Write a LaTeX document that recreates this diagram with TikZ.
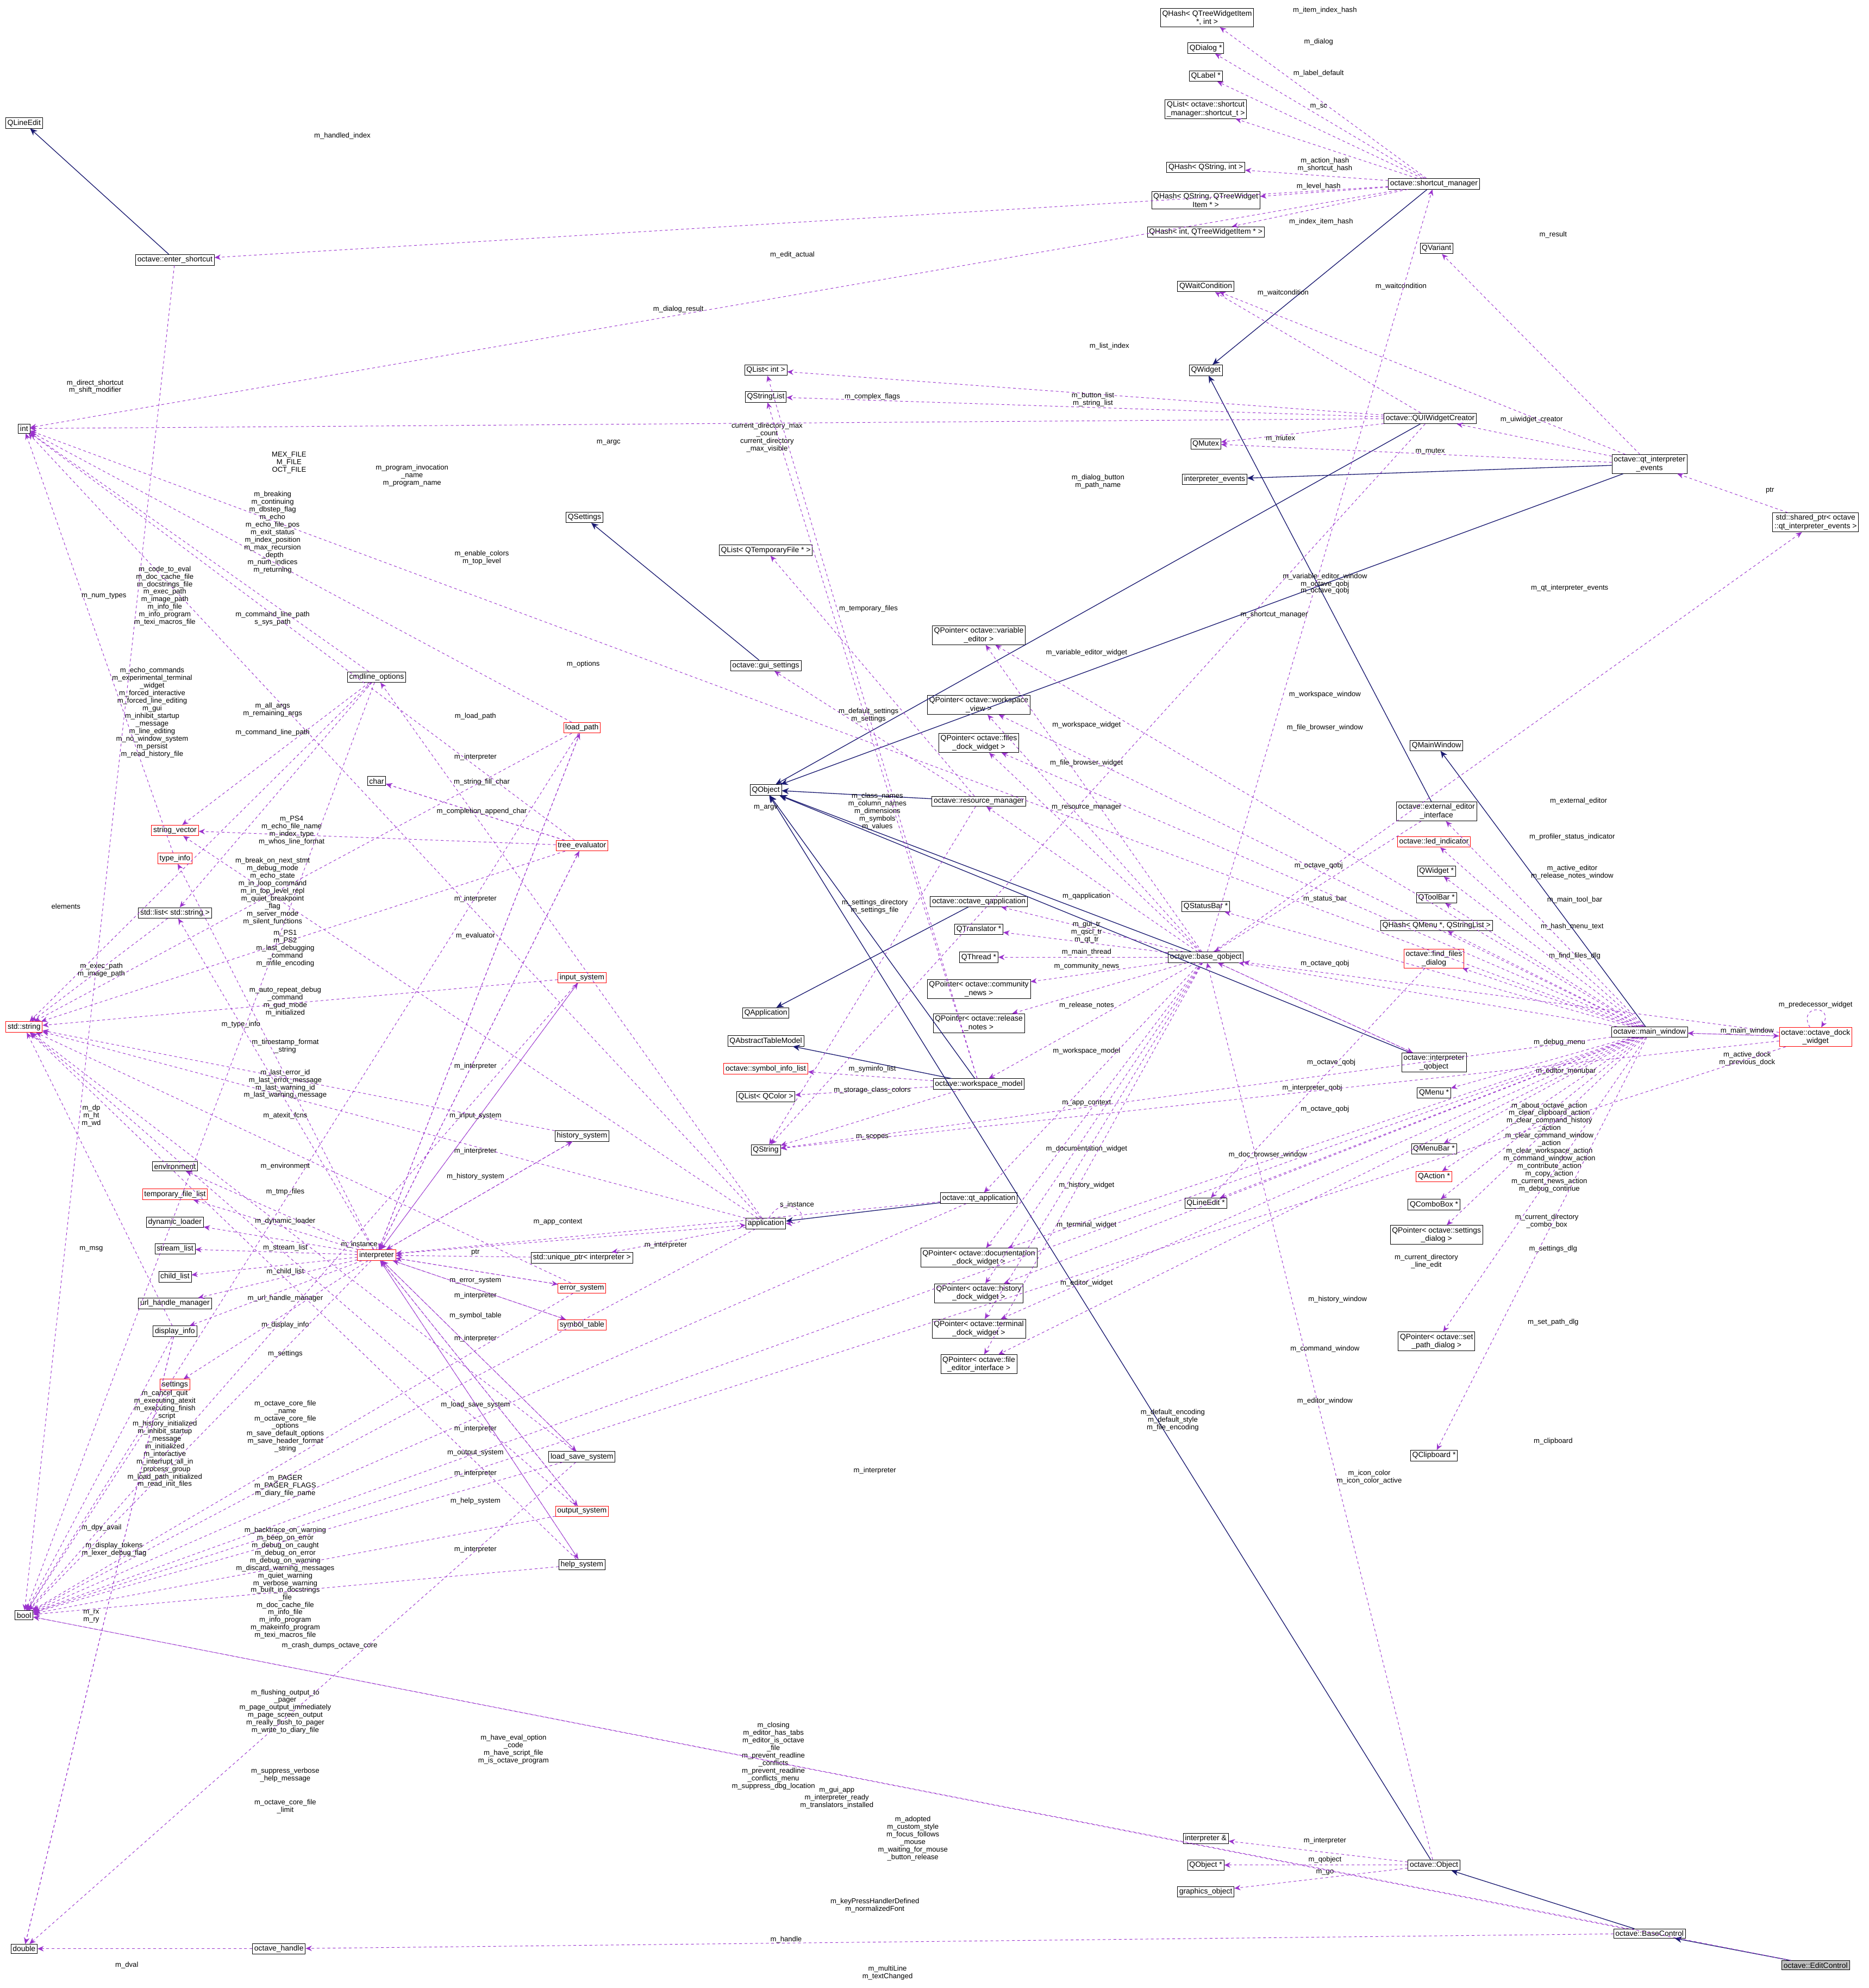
\documentclass[tikz,border=0pt]{standalone}
\usepackage{fontspec}
\setmainfont{Liberation Sans}
\usetikzlibrary{arrows.meta}
\definecolor{mem}{HTML}{9A32CD}
\definecolor{inh}{HTML}{191970}
\begin{document}
\begin{tikzpicture}[x=0.05cm,y=-0.05cm,
 n/.style={draw=black,fill=white,font=\fontsize{8.5}{9.5}\selectfont,inner sep=2pt,align=center,line width=0.5pt},
 r/.style={n,draw=red},
 g/.style={n,fill=gray!50},
 lab/.style={font=\fontsize{8}{8.5}\selectfont,align=center,inner sep=0pt,text=black},
 m/.style={dashed,draw=mem,line width=0.6pt,-{Stealth[length=7pt,width=6pt]},color=mem},
 i/.style={draw=inh,line width=0.8pt,-{Stealth[length=8pt,width=7pt]},color=inh}]
\useasboundingbox (0,0) rectangle (1474,1568);
% right-top
\node[n] (qh1) at (952,14) {QHash< QTreeWidgetItem\\*, int >};
\node[n] (qdlg) at (951,38) {QDialog *};
\node[n] (qlab) at (951,60) {QLabel *};
\node[n] (qlsc) at (951,86) {QList< octave::shortcut\\\_manager::shortcut\_t >};
\node[n] (qh2) at (951,132) {QHash< QString, int >};
\node[n] (qh3) at (951,158) {QHash< QString, QTreeWidget\\Item * >};
\node[n] (qh4) at (951,183) {QHash< int, QTreeWidgetItem * >};
\node[n] (scm) at (1131,145) {octave::shortcut\_manager};
\node[n] (qvar) at (1133,196) {QVariant};
\node[n] (qwc) at (951,226) {QWaitCondition};
\node[n] (qwid) at (951,292) {QWidget};
\node[n] (qmtx) at (951,350) {QMutex};
\node[n] (iev) at (958,378) {interpreter\_events};
\node[n] (quic) at (1128,330) {octave::QUIWidgetCreator};
\node[n] (qie) at (1301,366) {octave::qt\_interpreter\\\_events};
\node[n] (shp) at (1432,412) {std::shared\_ptr< octave\\::qt\_interpreter\_events >};
\node[n] (qmw) at (1133,588) {QMainWindow};
\node[n] (eei) at (1133,640) {octave::external\_editor\\\_interface};
\node[r] (led) at (1131,664) {octave::led\_indicator};
\node[n] (qwp) at (1133,687) {QWidget *};
\node[n] (qtb) at (1133,708) {QToolBar *};
\node[n] (qhm) at (1133,730) {QHash< QMenu *, QStringList >};
\node[r] (ffd) at (1131,756) {octave::find\_files\\\_dialog};
\node[n] (mw) at (1301,814) {octave::main\_window};
\node[r] (odw) at (1432,818) {octave::octave\_dock\\\_widget};
\node[n] (iqo) at (1131,838) {octave::interpreter\\\_qobject};
\node[n] (qmenu) at (1131,862) {QMenu *};
\node[n] (qmb) at (1131,906) {QMenuBar *};
\node[r] (qact) at (1131,928) {QAction *};
\node[n] (qcb) at (1131,950) {QComboBox *};
\node[n] (psd) at (1133,974) {QPointer< octave::settings\\\_dialog >};
\node[n] (pspd) at (1133,1058) {QPointer< octave::set\\\_path\_dialog >};
\node[n] (qclip) at (1131,1148) {QClipboard *};
\node[n] (iref) at (951,1450) {interpreter \&};
\node[n] (qop) at (951,1471) {QObject *};
\node[n] (gobj) at (951,1492) {graphics\_object};
\node[n] (obj) at (1131,1471) {octave::Object};
\node[n] (bc) at (1301,1525) {octave::BaseControl};
\node[g] (ec) at (1432,1550) {octave::EditControl};
% middle
\node[n] (qli) at (604,292) {QList< int >};
\node[n] (qsl) at (604,313) {QStringList};
\node[n] (qset) at (461,408) {QSettings};
\node[n] (qltf) at (604,434) {QList< QTemporaryFile * >};
\node[n] (gs) at (604,525) {octave::gui\_settings};
\node[n] (qobj) at (604,623) {QObject};
\node[n] (rm) at (772,632) {octave::resource\_manager};
\node[n] (pve) at (772,501) {QPointer< octave::variable\\\_editor >};
\node[n] (pwv) at (772,556) {QPointer< octave::workspace\\\_view >};
\node[n] (pfd) at (772,586) {QPointer< octave::files\\\_dock\_widget >};
\node[n] (oqa) at (772,711) {octave::octave\_qapplication};
\node[n] (qtr) at (772,733) {QTranslator *};
\node[n] (qth) at (772,755) {QThread *};
\node[n] (pcn) at (772,780) {QPointer< octave::community\\\_news >};
\node[n] (prn) at (772,807) {QPointer< octave::release\\\_notes >};
\node[n] (bq) at (951,755) {octave::base\_qobject};
\node[n] (qsb) at (951,715) {QStatusBar *};
\node[n] (qapp) at (604,799) {QApplication};
\node[n] (qatm) at (604,821) {QAbstractTableModel};
\node[r] (sil) at (604,843) {octave::symbol\_info\_list};
\node[n] (qlc) at (604,865) {QList< QColor >};
\node[n] (wm) at (772,855) {octave::workspace\_model};
\node[n] (qstr) at (604,907) {QString};
\node[n] (qta) at (772,945) {octave::qt\_application};
\node[n] (app) at (604,965) {application};
\node[n] (pdd) at (772,992) {QPointer< octave::documentation\\\_dock\_widget >};
\node[n] (phd) at (772,1020) {QPointer< octave::history\\\_dock\_widget >};
\node[n] (ptd) at (772,1048) {QPointer< octave::terminal\\\_dock\_widget >};
\node[n] (pfe) at (772,1076) {QPointer< octave::file\\\_editor\_interface >};
\node[n] (qlep) at (951,949) {QLineEdit *};
% left
\node[n] (qle) at (19,97) {QLineEdit};
\node[n] (es) at (138,205) {octave::enter\_shortcut};
\node[n] (int) at (19,338) {int};
\node[r] (str) at (19,810) {std::string};
\node[n] (bool) at (19,1274) {bool};
\node[n] (dbl) at (19,1537) {double};
\node[n] (clo) at (297,534) {cmdline\_options};
\node[r] (lp) at (459,574) {load\_path};
\node[n] (chr) at (297,616) {char};
\node[r] (te) at (459,667) {tree\_evaluator};
\node[r] (sv) at (138,655) {string\_vector};
\node[r] (ti) at (138,677) {type\_info};
\node[n] (sls) at (138,720) {std::list< std::string >};
\node[r] (ins) at (459,771) {input\_system};
\node[n] (hs) at (459,896) {history\_system};
\node[n] (env) at (138,920) {environment};
\node[r] (tfl) at (138,942) {temporary\_file\_list};
\node[n] (dl) at (138,964) {dynamic\_loader};
\node[n] (sl) at (138,985) {stream\_list};
\node[n] (cl) at (138,1007) {child\_list};
\node[n] (uhm) at (138,1028) {url\_handle\_manager};
\node[n] (di) at (138,1050) {display\_info};
\node[r] (set) at (138,1092) {settings};
\node[r] (itp) at (297,990) {interpreter};
\node[n] (up) at (459,992) {std::unique\_ptr< interpreter >};
\node[r] (es2) at (459,1016) {error\_system};
\node[r] (st) at (459,1045) {symbol\_table};
\node[n] (lss) at (459,1149) {load\_save\_system};
\node[r] (os) at (459,1192) {output\_system};
\node[n] (hsy) at (459,1234) {help\_system};
\node[n] (oh) at (220,1537) {octave\_handle};

% inheritance
\draw[i] (es) -- (qle);
\draw[i] (scm) -- (qwid);
\draw[i] (quic) -- (qobj);
\draw[i] (qie) -- (iev);
\draw[i] (qie) -- (qobj);
\draw[i] (mw) -- (qmw);
\draw[i] (eei) -- (qwid);
\draw[i] (gs) -- (qset);
\draw[i] (rm) -- (qobj);
\draw[i] (bq) -- (qobj);
\draw[i] (oqa) -- (qapp);
\draw[i] (wm) -- (qatm);
\draw[i] (wm) -- (qobj);
\draw[i] (qta) -- (app);
\draw[i] (iqo) -- (qobj);
\draw[i] (obj) -- (qobj);
\draw[i] (bc) -- (obj);
\draw[i] (ec) -- (bc);

% members
\draw[m] (scm) -- (qh1); \node[lab] at (1045,8) {m\_item\_index\_hash};
\draw[m] (scm) -- (qdlg); \node[lab] at (1040,33) {m\_dialog};
\draw[m] (scm) -- (qlab); \node[lab] at (1040,58) {m\_label\_default};
\draw[m] (scm) -- (qlsc); \node[lab] at (1040,84) {m\_sc};
\draw[m] (scm) -- (qh2); \node[lab] at (1045,130) {m\_action\_hash\\m\_shortcut\_hash};
\draw[m] (scm) -- (qh3); \node[lab] at (1040,147) {m\_level\_hash};
\draw[m] (scm) -- (qh4); \node[lab] at (1042,175) {m\_index\_item\_hash};
\draw[m] (scm) -- (int); \node[lab] at (270,107) {m\_handled\_index};
\draw[m] (scm) -- (es); \node[lab] at (625,201) {m\_edit\_actual};
\draw[m] (es) -- (bool); \node[lab] at (75,305) {m\_direct\_shortcut\\m\_shift\_modifier};
\draw[m] (qie) -- (qvar); \node[lab] at (1225,185) {m\_result};
\draw[m] (qie) -- (qwc); \node[lab] at (1105,226) {m\_waitcondition};
\draw[m] (qie) -- (quic); \node[lab] at (1208,331) {m\_uiwidget\_creator};
\draw[m] (qie) -- (qmtx); \node[lab] at (1128,356) {m\_mutex};
\draw[m] (quic) -- (qwc); \node[lab] at (1012,231) {m\_waitcondition};
\draw[m] (quic) -- (qmtx); \node[lab] at (1010,346) {m\_mutex};
\draw[m] (quic) -- (qli); \node[lab] at (875,273) {m\_list\_index};
\draw[m] (quic) -- (qsl); \node[lab] at (862,315) {m\_button\_list\\m\_string\_list};
\draw[m] (quic) -- (int); \node[lab] at (535,244) {m\_dialog\_result};
\draw[m] (quic) -- (qstr); \node[lab] at (866,380) {m\_dialog\_button\\m\_path\_name};
\draw[m] (shp) -- (qie); \node[lab] at (1396,387) {ptr};
\draw[m] (bq) -- (shp); \node[lab] at (1238,464) {m\_qt\_interpreter\_events};
\draw[m] (bq) -- (scm); \node[lab] at (1005,485) {m\_shortcut\_manager};
\draw[m] (bq) -- (pve); \node[lab] at (857,515) {m\_variable\_editor\_widget};
\draw[m] (bq) -- (pwv); \node[lab] at (857,572) {m\_workspace\_widget};
\draw[m] (bq) -- (pfd); \node[lab] at (857,602) {m\_file\_browser\_widget};
\draw[m] (bq) -- (rm); \node[lab] at (857,637) {m\_resource\_manager};
\draw[m] (bq) -- (oqa); \node[lab] at (857,707) {m\_qapplication};
\draw[m] (bq) -- (qtr); \node[lab] at (857,735) {m\_gui\_tr\\m\_qsci\_tr\\m\_qt\_tr};
\draw[m] (bq) -- (qth); \node[lab] at (857,751) {m\_main\_thread};
\draw[m] (bq) -- (pcn); \node[lab] at (857,762) {m\_community\_news};
\draw[m] (bq) -- (prn); \node[lab] at (857,793) {m\_release\_notes};
\draw[m] (bq) -- (wm); \node[lab] at (857,829) {m\_workspace\_model};
\draw[m] (bq) -- (qta); \node[lab] at (857,870) {m\_app\_context};
\draw[m] (bq) -- (pdd); \node[lab] at (857,906) {m\_documentation\_widget};
\draw[m] (bq) -- (phd); \node[lab] at (857,935) {m\_history\_widget};
\draw[m] (bq) -- (ptd); \node[lab] at (857,966) {m\_terminal\_widget};
\draw[m] (bq) -- (pfe); \node[lab] at (857,1012) {m\_editor\_widget};
\draw[m] (bq) -- (iqo); \node[lab] at (1035,858) {m\_interpreter\_qobj};
\draw[m] (mw) -- (bq); \node[lab] at (1045,760) {m\_octave\_qobj};
\draw[m] (eei) -- (bq); \node[lab] at (1040,683) {m\_octave\_qobj};
\draw[m] (iqo) -- (bq); \node[lab] at (1045,875) {m\_octave\_qobj};
\draw[m] (obj) -- (bq); \node[lab] at (1050,838) {m\_octave\_qobj};
\draw[m] (odw) -- (bq); \node[lab] at (1045,466) {m\_octave\_qobj};
\draw[m] (mw) -- (qsb); \node[lab] at (1045,709) {m\_status\_bar};
\draw[m] (mw) -- (eei); \node[lab] at (1245,632) {m\_external\_editor};
\draw[m] (mw) -- (led); \node[lab] at (1240,660) {m\_profiler\_status\_indicator};
\draw[m] (mw) -- (qwp); \node[lab] at (1240,688) {m\_active\_editor\\m\_release\_notes\_window};
\draw[m] (mw) -- (qtb); \node[lab] at (1242,710) {m\_main\_tool\_bar};
\draw[m] (mw) -- (qhm); \node[lab] at (1240,731) {m\_hash\_menu\_text};
\draw[m] (mw) -- (ffd); \node[lab] at (1242,754) {m\_find\_files\_dlg};
\draw[m] (mw) -- (qmenu); \node[lab] at (1230,822) {m\_debug\_menu};
\draw[m] (mw) -- (qmb); \node[lab] at (1235,845) {m\_editor\_menubar};
\draw[m] (mw) -- (qact); \node[lab] at (1222,905) {m\_about\_octave\_action\\m\_clear\_clipboard\_action\\m\_clear\_command\_history\\\_action\\m\_clear\_command\_window\\\_action\\m\_clear\_workspace\_action\\m\_command\_window\_action\\m\_contribute\_action\\m\_copy\_action\\m\_current\_news\_action\\m\_debug\_continue};
\draw[m] (mw) -- (qcb); \node[lab] at (1220,963) {m\_current\_directory\\\_combo\_box};
\draw[m] (mw) -- (psd); \node[lab] at (1225,985) {m\_settings\_dlg};
\draw[m] (mw) -- (qlep); \node[lab] at (1125,995) {m\_current\_directory\\\_line\_edit};
\draw[m] (mw) -- (phd); \node[lab] at (1055,1025) {m\_history\_window};
\draw[m] (mw) -- (pspd); \node[lab] at (1225,1043) {m\_set\_path\_dlg};
\draw[m] (mw) -- (ptd); \node[lab] at (1045,1064) {m\_command\_window};
\draw[m] (mw) -- (pfe); \node[lab] at (1045,1105) {m\_editor\_window};
\draw[m] (mw) -- (qclip); \node[lab] at (1225,1137) {m\_clipboard};
\draw[m] (mw) -- (pdd); \node[lab] at (1000,911) {m\_doc\_browser\_window};
\draw[m] (mw) -- (pwv); \node[lab] at (1045,548) {m\_workspace\_window};
\draw[m] (mw) -- (pfd); \node[lab] at (1045,574) {m\_file\_browser\_window};
\draw[m] (mw) -- (pve); \node[lab] at (1045,458) {m\_variable\_editor\_window\\m\_octave\_qobj};
\draw[m] (mw) -- (qstr); \node[lab] at (925,1120) {m\_default\_encoding\\m\_default\_style\\m\_file\_encoding};
\draw[m] (mw) -- (bool); \node[lab] at (610,1385) {m\_closing\\m\_editor\_has\_tabs\\m\_editor\_is\_octave\\\_file\\m\_prevent\_readline\\\_conflicts\\m\_prevent\_readline\\\_conflicts\_menu\\m\_suppress\_dbg\_location};
\draw[m] (mw) -- (int); \node[lab] at (605,345) {current\_directory\_max\\\_count\\current\_directory\\\_max\_visible};
\draw[m] (mw) -- (odw); \node[lab] at (1378,835) {m\_active\_dock\\m\_previous\_dock};
\draw[m] (odw) -- (mw); \node[lab] at (1378,813) {m\_main\_window};
\draw[m] (odw) to[out=120,in=60,looseness=6] node[lab,above=2pt]{m\_predecessor\_widget} (odw);
\draw[m] (odw) -- (qstr); \node[lab] at (1080,1165) {m\_icon\_color\\m\_icon\_color\_active};
\draw[m] (odw) -- (bool); \node[lab] at (720,1450) {m\_adopted\\m\_custom\_style\\m\_focus\_follows\\\_mouse\\m\_waiting\_for\_mouse\\\_button\_release};
\draw[m] (ffd) -- (qlep);
\draw[m] (obj) -- (iref); \node[lab] at (1045,1452) {m\_interpreter};
\draw[m] (obj) -- (qop); \node[lab] at (1045,1467) {m\_qobject};
\draw[m] (obj) -- (gobj); \node[lab] at (1045,1477) {m\_go};
\draw[m] (bc) -- (bool); \node[lab] at (690,1503) {m\_keyPressHandlerDefined\\m\_normalizedFont};
\draw[m] (bc) -- (oh); \node[lab] at (620,1530) {m\_handle};
\draw[m] (ec) -- (bool); \node[lab] at (700,1556) {m\_multiLine\\m\_textChanged};
\draw[m] (oh) -- (dbl); \node[lab] at (100,1550) {m\_dval};
\draw[m] (rm) -- (gs); \node[lab] at (685,564) {m\_default\_settings\\m\_settings};
\draw[m] (rm) -- (qltf); \node[lab] at (685,480) {m\_temporary\_files};
\draw[m] (rm) -- (qstr); \node[lab] at (690,715) {m\_settings\_directory\\m\_settings\_file};
\draw[m] (wm) -- (sil); \node[lab] at (688,843) {m\_syminfo\_list};
\draw[m] (wm) -- (qlc); \node[lab] at (688,860) {m\_storage\_class\_colors};
\draw[m] (wm) -- (qstr); \node[lab] at (688,897) {m\_scopes};
\draw[m] (wm) -- (qli); \node[lab] at (688,313) {m\_complex\_flags};
\draw[m] (wm) -- (qsl); \node[lab] at (692,640) {m\_class\_names\\m\_column\_names\\m\_dimensions\\m\_symbols\\m\_values};
\draw[m] (qta) -- (bool); \node[lab] at (660,1418) {m\_gui\_app\\m\_interpreter\_ready\\m\_translators\_installed};
\draw[m] (qta) -- (itp); \node[lab] at (690,1160) {m\_interpreter};
\draw[m] (app) -- (up); \node[lab] at (525,982) {m\_interpreter};
\draw[m] (up) -- (itp); \node[lab] at (375,988) {ptr};
\draw[m] (itp) -- (app); \node[lab] at (440,964) {m\_app\_context};
\draw[m] (app) to[out=60,in=0,looseness=5] node[lab,above=1pt]{s\_instance} (app);
\draw[m] (app) -- (clo); \node[lab] at (460,524) {m\_options};
\draw[m] (app) -- (int); \node[lab] at (480,349) {m\_argc};
\draw[m] (app) -- (str); \node[lab] at (325,375) {m\_program\_invocation\\\_name\\m\_program\_name};
\draw[m] (app) -- (sv); \node[lab] at (604,637) {m\_argv};
\draw[m] (app) -- (bool); \node[lab] at (405,1380) {m\_have\_eval\_option\\\_code\\m\_have\_script\_file\\m\_is\_octave\_program};
\draw[m] (clo) -- (str); \node[lab] at (130,470) {m\_code\_to\_eval\\m\_doc\_cache\_file\\m\_docstrings\_file\\m\_exec\_path\\m\_image\_path\\m\_info\_file\\m\_info\_program\\m\_texi\_macros\_file};
\draw[m] (clo) -- (bool); \node[lab] at (120,562) {m\_echo\_commands\\m\_experimental\_terminal\\\_widget\\m\_forced\_interactive\\m\_forced\_line\_editing\\m\_gui\\m\_inhibit\_startup\\\_message\\m\_line\_editing\\m\_no\_window\_system\\m\_persist\\m\_read\_history\_file};
\draw[m] (clo) -- (sv); \node[lab] at (215,560) {m\_all\_args\\m\_remaining\_args};
\draw[m] (clo) -- (sls); \node[lab] at (215,578) {m\_command\_line\_path};
\draw[m] (lp) -- (str); \node[lab] at (215,488) {m\_command\_line\_path\\s\_sys\_path};
\draw[m] (lp) -- (int); \node[lab] at (228,365) {MEX\_FILE\\M\_FILE\\OCT\_FILE};
\draw[m] (lp) -- (itp); \node[lab] at (375,597) {m\_interpreter};
\draw[m] (lp) -- (bool); \node[lab] at (380,440) {m\_enable\_colors\\m\_top\_level};
\draw[m] (te) -- (chr); \node[lab] at (380,617) {m\_string\_fill\_char};
\draw[m] (te) -- (sv); \node[lab] at (230,655) {m\_PS4\\m\_echo\_file\_name\\m\_index\_type\\m\_whos\_line\_format};
\draw[m] (te) -- (int); \node[lab] at (215,420) {m\_breaking\\m\_continuing\\m\_dbstep\_flag\\m\_echo\\m\_echo\_file\_pos\\m\_exit\_status\\m\_index\_position\\m\_max\_recursion\\\_depth\\m\_num\_indices\\m\_returning};
\draw[m] (te) -- (str); \node[lab] at (215,703) {m\_break\_on\_next\_stmt\\m\_debug\_mode\\m\_echo\_state\\m\_in\_loop\_command\\m\_in\_top\_level\_repl\\m\_quiet\_breakpoint\\\_flag\\m\_server\_mode\\m\_silent\_functions};
\draw[m] (te) -- (itp); \node[lab] at (375,709) {m\_interpreter};
\draw[m] (te) -- (chr); \node[lab] at (380,640) {m\_completion\_append\_char};
\draw[m] (ins) -- (str); \node[lab] at (225,748) {m\_PS1\\m\_PS2\\m\_last\_debugging\\\_command\\m\_mfile\_encoding};
\draw[m] (ins) -- (itp); \node[lab] at (375,841) {m\_interpreter};
\draw[m] (ins) -- (bool); \node[lab] at (225,790) {m\_auto\_repeat\_debug\\\_command\\m\_gud\_mode\\m\_initialized};
\draw[m] (hs) -- (str); \node[lab] at (225,825) {m\_timestamp\_format\\\_string};
\draw[m] (hs) -- (itp); \node[lab] at (375,908) {m\_interpreter};
\draw[m] (itp) -- (hs); \node[lab] at (375,928) {m\_history\_system};
\draw[m] (itp) -- (ins); \node[lab] at (375,880) {m\_input\_system};
\draw[m] (itp) -- (te); \node[lab] at (375,738) {m\_evaluator};
\draw[m] (itp) -- (lp); \node[lab] at (375,565) {m\_load\_path};
\draw[m] (itp) -- (env); \node[lab] at (225,920) {m\_environment};
\draw[m] (itp) -- (tfl); \node[lab] at (225,940) {m\_tmp\_files};
\draw[m] (itp) -- (dl); \node[lab] at (225,963) {m\_dynamic\_loader};
\draw[m] (itp) -- (sl); \node[lab] at (225,984) {m\_stream\_list};
\draw[m] (itp) -- (cl); \node[lab] at (225,1003) {m\_child\_list};
\draw[m] (itp) -- (uhm); \node[lab] at (225,1024) {m\_url\_handle\_manager};
\draw[m] (itp) -- (di); \node[lab] at (225,1045) {m\_display\_info};
\draw[m] (itp) -- (set); \node[lab] at (225,1068) {m\_settings};
\draw[m] (itp) -- (ti); \node[lab] at (190,808) {m\_type\_info};
\draw[m] (itp) -- (sls); \node[lab] at (225,880) {m\_atexit\_fcns};
\draw[m] (itp) to[out=90,in=60,looseness=6] node[lab,left=2pt]{m\_instance} (itp);
\draw[m] (itp) -- (es2); \node[lab] at (375,1010) {m\_error\_system};
\draw[m] (itp) -- (st); \node[lab] at (375,1038) {m\_symbol\_table};
\draw[m] (itp) -- (lss); \node[lab] at (375,1108) {m\_load\_save\_system};
\draw[m] (itp) -- (os); \node[lab] at (375,1146) {m\_output\_system};
\draw[m] (itp) -- (hsy); \node[lab] at (375,1184) {m\_help\_system};
\draw[m] (itp) -- (bool); \node[lab] at (130,1135) {m\_cancel\_quit\\m\_executing\_atexit\\m\_executing\_finish\\\_script\\m\_history\_initialized\\m\_inhibit\_startup\\\_message\\m\_initialized\\m\_interactive\\m\_interrupt\_all\_in\\\_process\_group\\m\_load\_path\_initialized\\m\_read\_init\_files};
\draw[m] (es2) -- (itp); \node[lab] at (375,1022) {m\_interpreter};
\draw[m] (st) -- (itp); \node[lab] at (375,1056) {m\_interpreter};
\draw[m] (lss) -- (itp); \node[lab] at (375,1127) {m\_interpreter};
\draw[m] (os) -- (itp); \node[lab] at (375,1162) {m\_interpreter};
\draw[m] (hsy) -- (itp); \node[lab] at (375,1222) {m\_interpreter};
\draw[m] (es2) -- (str); \node[lab] at (225,855) {m\_last\_error\_id\\m\_last\_error\_message\\m\_last\_warning\_id\\m\_last\_warning\_message};
\draw[m] (es2) -- (bool); \node[lab] at (225,1228) {m\_backtrace\_on\_warning\\m\_beep\_on\_error\\m\_debug\_on\_caught\\m\_debug\_on\_error\\m\_debug\_on\_warning\\m\_discard\_warning\_messages\\m\_quiet\_warning\\m\_verbose\_warning};
\draw[m] (lss) -- (str); \node[lab] at (225,1125) {m\_octave\_core\_file\\\_name\\m\_octave\_core\_file\\\_options\\m\_save\_default\_options\\m\_save\_header\_format\\\_string};
\draw[m] (lss) -- (bool); \node[lab] at (260,1298) {m\_crash\_dumps\_octave\_core};
\draw[m] (lss) -- (dbl); \node[lab] at (225,1425) {m\_octave\_core\_file\\\_limit};
\draw[m] (os) -- (str); \node[lab] at (225,1172) {m\_PAGER\\m\_PAGER\_FLAGS\\m\_diary\_file\_name};
\draw[m] (os) -- (bool); \node[lab] at (225,1350) {m\_flushing\_output\_to\\\_pager\\m\_page\_output\_immediately\\m\_page\_screen\_output\\m\_really\_flush\_to\_pager\\m\_write\_to\_diary\_file};
\draw[m] (hsy) -- (str); \node[lab] at (225,1272) {m\_built\_in\_docstrings\\\_file\\m\_doc\_cache\_file\\m\_info\_file\\m\_info\_program\\m\_makeinfo\_program\\m\_texi\_macros\_file};
\draw[m] (hsy) -- (bool); \node[lab] at (225,1400) {m\_suppress\_verbose\\\_help\_message};
\draw[m] (sls) -- (str); \node[lab] at (52,715) {elements};
\draw[m] (ti) -- (int); \node[lab] at (82,470) {m\_num\_types};
\draw[m] (di) -- (dbl); \node[lab] at (72,880) {m\_dp\\m\_ht\\m\_wd};
\draw[m] (di) -- (bool); \node[lab] at (80,1205) {m\_dpy\_avail};
\draw[m] (di) -- (str); \node[lab] at (72,985) {m\_msg};
\draw[m] (di) -- (dbl); \node[lab] at (72,1275) {m\_rx\\m\_ry};
\draw[m] (set) -- (bool); \node[lab] at (90,1222) {m\_display\_tokens\\m\_lexer\_debug\_flag};
\draw[m] (clo) -- (int); \node[lab] at (80,765) {m\_exec\_path\\m\_image\_path};
\end{tikzpicture}
\end{document}
